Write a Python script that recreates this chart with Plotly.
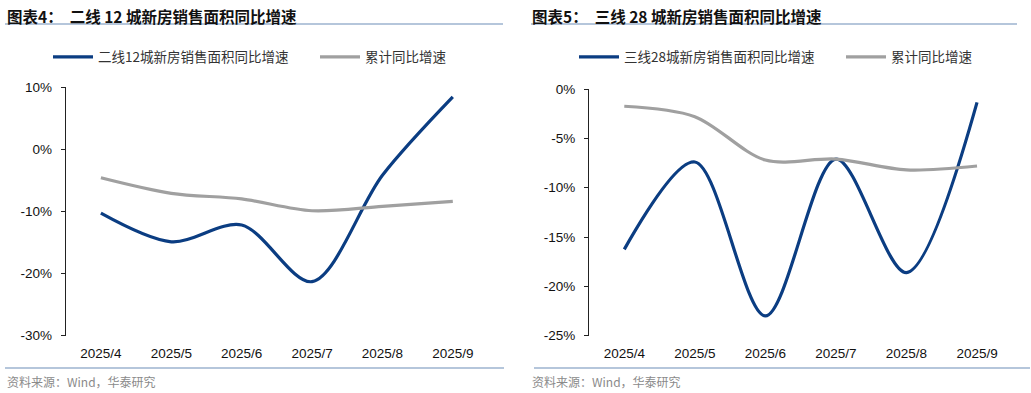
import plotly.graph_objects as go

months = ["2025/4", "2025/5", "2025/6", "2025/7", "2025/8", "2025/9"]

# Left panel: 二线12城
left_main = [-10.3, -14.9, -12.2, -21.3, -4.2, 8.4]
left_cum = [-4.6, -7.1, -8.0, -9.9, -9.2, -8.4]
left_yticks = [10, 0, -10, -20, -30]

# Right panel: 三线28城
right_main = [-16.25, -7.4, -23.0, -7.1, -18.6, -1.35]
right_cum = [-1.75, -2.8, -7.2, -7.1, -8.2, -7.8]
right_yticks = [0, -5, -10, -15, -20, -25]

left_title = "图表4：  二线 12 城新房销售面积同比增速"
right_title = "图表5：  三线 28 城新房销售面积同比增速"
left_main_name = "二线12城新房销售面积同比增速"
right_main_name = "三线28城新房销售面积同比增速"
cum_name = "累计同比增速"
source_text = "资料来源：Wind，华泰研究"

W, H = 1031, 393
BLUE = "#0b3d82"
GRAY = "#a0a0a0"
CJK = "Noto Sans CJK SC"
LAT = "Liberation Sans, Arial, sans-serif"

def px_x(p):
    return p / W

def px_y(p):
    return 1 - p / H

L_dom_x = [px_x(65.7), px_x(488)]
L_dom_y = [px_y(335.7), px_y(87)]
R_dom_x = [px_x(589), px_x(1012.3)]
R_dom_y = [px_y(335.7), px_y(89)]

fig = go.Figure()

def add(x, y, name, color, xa, ya, legend):
    fig.add_trace(go.Scatter(
        x=x, y=y, name=name, mode="lines",
        line=dict(color=color, width=3.2, shape="spline", smoothing=0.9),
        xaxis=xa, yaxis=ya, legend=legend, hoverinfo="skip",
    ))

add(months, left_main, left_main_name, BLUE, "x", "y", "legend")
add(months, left_cum, cum_name, GRAY, "x", "y", "legend")
add(months, right_main, right_main_name, BLUE, "x2", "y2", "legend2")
add(months, right_cum, cum_name, GRAY, "x2", "y2", "legend2")

tickfont = dict(family=LAT, size=13.5, color="#111")

def xcat(domain, anchor):
    return dict(domain=domain, anchor=anchor, type="category",
                categoryarray=months, categoryorder="array",
                range=[-0.5, 5.5], showline=False, ticks="",
                showgrid=False, zeroline=False, tickfont=tickfont,
                ticklabelstandoff=8)

def yax(domain, anchor, rng, vals):
    return dict(domain=domain, anchor=anchor, range=rng, tickvals=vals,
                ticktext=[f"{v}%" for v in vals], showline=True,
                linecolor="#222", linewidth=1, ticks="outside", ticklen=4,
                tickcolor="#222", showgrid=False, zeroline=False,
                tickfont=tickfont, ticklabelstandoff=6)

boundaries = [i - 0.5 for i in range(len(months) + 1)]

def xzero(overlay, domain, pos):
    return dict(overlaying=overlay, domain=domain, anchor="free", position=pos,
                range=[-0.5, 5.5], tickvals=boundaries, showticklabels=False,
                showline=True, linecolor="#6e6e6e", linewidth=1.5,
                ticks="outside", ticklen=4, tickcolor="#444",
                showgrid=False, zeroline=False, side="bottom")

# position of y=0 within each panel
L_zero = L_dom_y[0] + (0 - (-30)) / 40 * (L_dom_y[1] - L_dom_y[0])
R_zero = R_dom_y[1]

legend_font = dict(family=CJK, size=13.5, color="#333")

fig.update_layout(
    width=W, height=H, margin=dict(l=0, r=0, t=0, b=0, autoexpand=False),
    paper_bgcolor="white", plot_bgcolor="rgba(0,0,0,0)",
    xaxis=xcat(L_dom_x, "y"),
    yaxis=yax(L_dom_y, "x", [-30, 10], left_yticks),
    xaxis2=xcat(R_dom_x, "y2"),
    yaxis2=yax(R_dom_y, "x2", [-25, 0], right_yticks),
    xaxis3=xzero("x", L_dom_x, L_zero),
    xaxis4=xzero("x2", R_dom_x, R_zero),
    legend=dict(orientation="h", x=px_x(48), y=px_y(57), xanchor="left", yanchor="middle",
                font=legend_font, itemwidth=40, bgcolor="rgba(0,0,0,0)",
                entrywidth=212),
    legend2=dict(orientation="h", x=px_x(574), y=px_y(57), xanchor="left", yanchor="middle",
                 font=legend_font, itemwidth=40, bgcolor="rgba(0,0,0,0)",
                 entrywidth=212),
    showlegend=True,
)

# titles
for xx, txt in [(5, left_title), (530, right_title)]:
    fig.add_annotation(text=f"<b>{txt}</b>", x=px_x(xx), y=px_y(16), xref="paper", yref="paper",
                       xanchor="left", yanchor="middle", showarrow=False,
                       font=dict(family=CJK, size=15.5, color="#111"))
# source
for xx in [5, 530]:
    fig.add_annotation(text=source_text, x=px_x(xx), y=px_y(381), xref="paper", yref="paper",
                       xanchor="left", yanchor="middle", showarrow=False,
                       font=dict(family=CJK, size=12, color="#8a8a8a"))

# separator lines
LINE = "#9db3cf"
for x0, x1 in [(5, 503), (531, 1017)]:
    fig.add_shape(type="line", xref="paper", yref="paper", x0=px_x(x0), x1=px_x(x1),
                  y0=px_y(24), y1=px_y(24), line=dict(color=LINE, width=1.5))
for x0, x1 in [(5, 504), (534, 1030)]:
    fig.add_shape(type="line", xref="paper", yref="paper", x0=px_x(x0), x1=px_x(x1),
                  y0=px_y(368), y1=px_y(368), line=dict(color=LINE, width=1.5))

fig.write_html("out.html", config={"displayModeBar": False},
               post_script="document.body.style.margin='0';document.body.style.padding='0';")
